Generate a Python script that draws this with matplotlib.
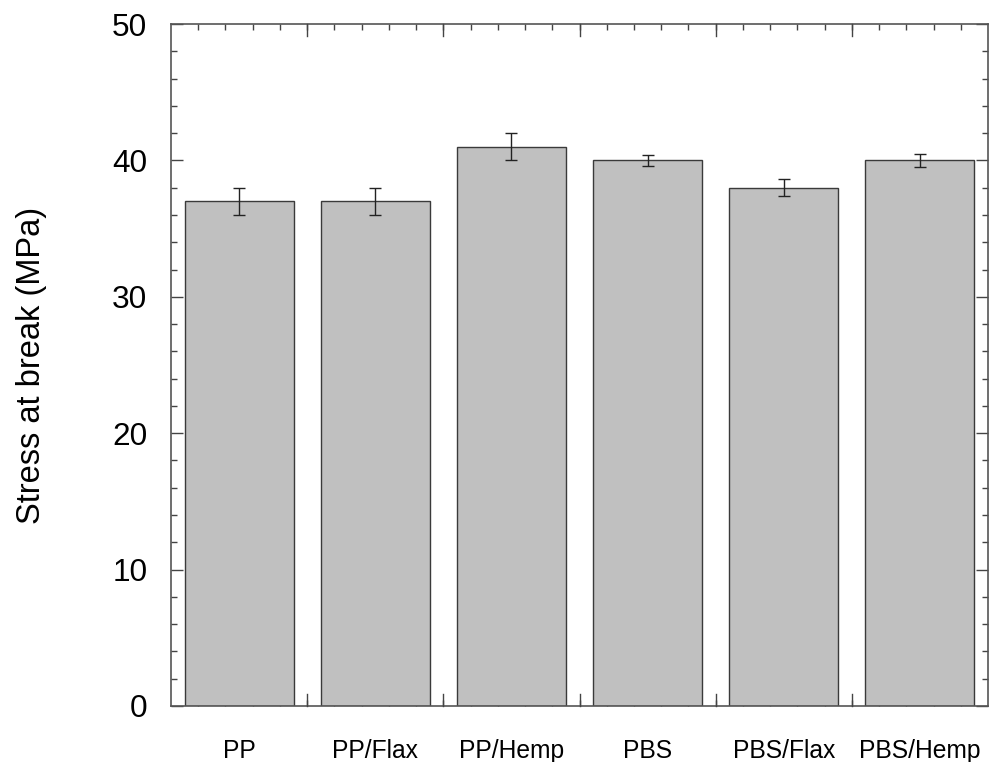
import numpy as np
import matplotlib.pyplot as plt
from matplotlib.ticker import MultipleLocator, FixedLocator

plt.rcParams.update({
    "font.family": "sans-serif",
    "font.sans-serif": ["Liberation Sans"],
})

samples = ["PP", "PP/Flax", "PP/Hemp", "PBS", "PBS/Flax", "PBS/Hemp"]
stress = [37, 37, 41, 40, 38, 40]
stress_err = [1.0, 1.0, 1.0, 0.4, 0.6, 0.5]

fig = plt.figure(figsize=(9.93, 7.62), dpi=100)
ax = fig.add_axes([0.1722, 0.0735, 0.8228, 0.895])

x = np.arange(len(samples))
ax.bar(x, stress, width=0.8, color="#c0c0c0", edgecolor="#3a3a3a", linewidth=1.0, zorder=2)
ax.errorbar(x, stress, yerr=stress_err, fmt="none", ecolor="#222222",
            elinewidth=1.0, capsize=4.5, capthick=1.0, zorder=3)

ax.set_xlim(-0.5, len(samples) - 0.5)
ax.set_ylim(0, 50)

# categories labelled at bar centres, ticks drawn at bar boundaries
ax.set_xticks(x)
ax.set_xticklabels(samples, fontsize=17.7)
ax.xaxis.set_major_locator(FixedLocator(x))
ax.tick_params(axis="x", which="major", length=0, pad=24)
bounds = np.arange(0.5, len(samples) - 0.5, 1.0)
minors = np.arange(-0.3, 5.4, 0.2)
minors = [m for m in minors if np.min(np.abs(bounds - m)) > 0.05]
ax.set_xticks(list(minors) + list(bounds), minor=True)
ax.tick_params(axis="x", which="minor", direction="in", top=True, bottom=True, length=4, width=1.0, color="#444444")
for b in bounds:
    for yy, dy in ((0, 1), (50, -1)):
        ax.plot([b, b], [yy, yy + dy * 0.88], color="#444444", lw=1.0, clip_on=False, zorder=4)

ax.yaxis.set_major_locator(MultipleLocator(10))
ax.yaxis.set_minor_locator(MultipleLocator(2))
ax.tick_params(axis="y", which="major", direction="in", left=True, right=True,
               length=8.6, width=1.0, color="#444444", labelsize=22.7, pad=17)
ax.tick_params(axis="y", which="minor", direction="in", left=True, right=True,
               length=4.3, width=1.0, color="#444444")
ax.set_ylabel("Stress at break (MPa)", fontsize=23.5, labelpad=47)

for s in ax.spines.values():
    s.set_color("#555555")
    s.set_linewidth(1.2)

fig.savefig("out.png", dpi=100)
